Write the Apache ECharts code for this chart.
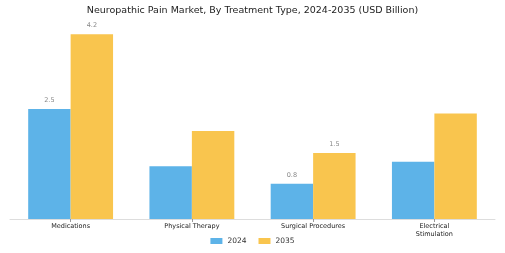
<!DOCTYPE html>
<html>
<head>
<meta charset="utf-8">
<script src="https://cdn.jsdelivr.net/npm/echarts@6/dist/echarts.min.js"></script>
<style>
  html, body { margin: 0; padding: 0; background: #ffffff; }
  #chart { width: 505px; height: 253px; }
</style>
</head>
<body>
<div id="chart"></div>
<script>
const categories = ['Medications', 'Physical Therapy', 'Surgical Procedures', 'Electrical\nStimulation']
const values2024 = [2.5, 1.2, 0.8, 1.3]
const values2035 = [4.2, 2.0, 1.5, 2.4]
// which bars carry a value label in the original
const showLabel2024 = [true, false, true, false]
const showLabel2035 = [true, false, true, false]

const withLabels = (values, flags) =>
  values.map((v, i) => ({ value: v, label: { show: flags[i] } }))

const chart = echarts.init(document.getElementById('chart'))

chart.setOption({
  backgroundColor: '#ffffff',
  textStyle: { fontFamily: 'DejaVu Sans' },
  title: {
    text: 'Neuropathic Pain Market, By Treatment Type, 2024-2035 (USD Billion)',
    left: 'center',
    top: 1,
    textStyle: { fontSize: 9.5, fontWeight: 'normal', color: '#222222', fontFamily: 'DejaVu Sans' },
  },
  legend: {
    bottom: 3,
    left: 'center',
    itemWidth: 12,
    itemHeight: 6,
    itemGap: 12,
    icon: 'rect',
    textStyle: { fontSize: 7.5, color: '#333333' },
    data: ['2024', '2035'],
  },
  grid: {
    left: 10,
    right: 10,
    top: 21,
    bottom: 34,
  },
  xAxis: {
    type: 'category',
    data: categories,
    axisLine: { lineStyle: { color: '#dddddd' } },
    axisTick: { show: true, alignWithLabel: true, length: 3, lineStyle: { color: '#999999' } },
    axisLabel: { fontSize: 6.5, color: '#222222', margin: 3, lineHeight: 8 },
  },
  yAxis: {
    type: 'value',
    min: 0,
    max: 4.5,
    show: false,
    splitLine: { show: false },
  },
  series: [
    {
      name: '2024',
      type: 'bar',
      data: withLabels(values2024, showLabel2024),
      barGap: '0%',
      barCategoryGap: '30%',
      itemStyle: { color: '#5DB3E8' },
      label: { position: 'top', fontSize: 6.5, color: '#888888', distance: 5 },
    },
    {
      name: '2035',
      type: 'bar',
      data: withLabels(values2035, showLabel2035),
      itemStyle: { color: '#F9C54E' },
      label: { position: 'top', fontSize: 6.5, color: '#888888', distance: 5 },
    },
  ],
})
</script>
</body>
</html>
